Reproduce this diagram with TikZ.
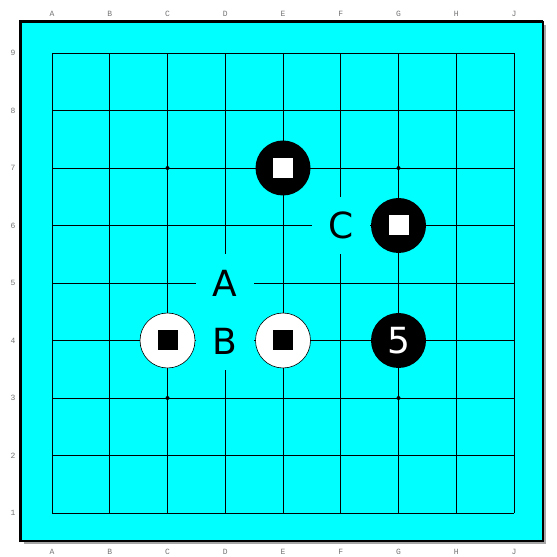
\documentclass[tikz,border=0pt]{standalone}
\usepackage{fontspec}
\setmainfont{DejaVu Sans}
\newfontfamily\coordfont{Liberation Mono}
\usepackage{xcolor}
\usepackage{tikz}
\usetikzlibrary{positioning}
\definecolor{boardcyan}{RGB}{0,255,255}

\begin{document}
\begin{tikzpicture}[
    x=57.75pt, y=57.5pt,
    gridline/.style={draw=black, line width=0.8pt},
    coord/.style={font=\coordfont\fontsize{8}{9}\selectfont, text=black!55},
    blackstone/.style={circle, fill=black, minimum size=55pt, inner sep=0pt,
                       text=white, font=\fontsize{36}{40}\selectfont},
    whitestone/.style={circle, draw=black, fill=white, line width=0.6pt,
                       minimum size=55pt, inner sep=0pt},
    whitemark/.style={fill=white, minimum size=20pt, inner sep=0pt},
    blackmark/.style={fill=black, minimum size=20pt, inner sep=0pt},
    letter/.style={fill=boardcyan, minimum width=57.75pt, minimum height=57.5pt,
                   inner sep=0pt, font=\fontsize{36}{40}\selectfont},
    hoshi/.style={circle, fill=black, minimum size=4pt, inner sep=0pt},
]
\useasboundingbox (-52pt,-44pt) rectangle (505pt,513pt);

% Board with shadow and border
\fill[black!35] (-28pt,-31pt) rectangle (494pt,488pt);
\draw[fill=boardcyan, line width=1.2pt] (-31pt,-28pt) rectangle (491pt,491pt);
\draw[line width=3pt] (-31pt,-29pt) -- (-31pt,491pt) -- (491pt,491pt);

% Grid lines
\foreach \i in {0,...,8} {
    \draw[gridline] (\i,0) -- (\i,8);
    \draw[gridline] (0,\i) -- (8,\i);
}

% Coordinate labels
\foreach \c [count=\i from 0] in {A,B,C,D,E,F,G,H,J} {
    \node[coord] at (\i,499pt) {\c};
    \node[coord] at (\i,-39pt) {\c};
}
\foreach \r in {1,...,9}
    \node[coord] at (-39pt,{\r-1}) {\r};

% Star points
\node[hoshi] (c7) at (2,6) {};
\node[hoshi] (g7) at (6,6) {};
\node[hoshi] (c3) at (2,2) {};
\node[hoshi] (g3) at (6,2) {};

% Letter marks (erase the grid beneath them)
\node[letter] (lblA) at (3,4) {A};
\node[letter] (lblB) [below=0pt of lblA] {B};
\node[letter] (lblC) at (5,5) {C};

% Stones
\node[blackstone] (e7) at (4,6) {};
\node[blackstone] (g6) at (6,5) {};
\node[whitestone] (c4) at (2,3) {};
\node[whitestone] (e4) at (4,3) {};
\node[blackstone] (g4) at (6,3) {5};

% Square marks on stones
\node[whitemark] at (e7) {};
\node[whitemark] at (g6) {};
\node[blackmark] at (c4) {};
\node[blackmark] at (e4) {};
\end{tikzpicture}
\end{document}
